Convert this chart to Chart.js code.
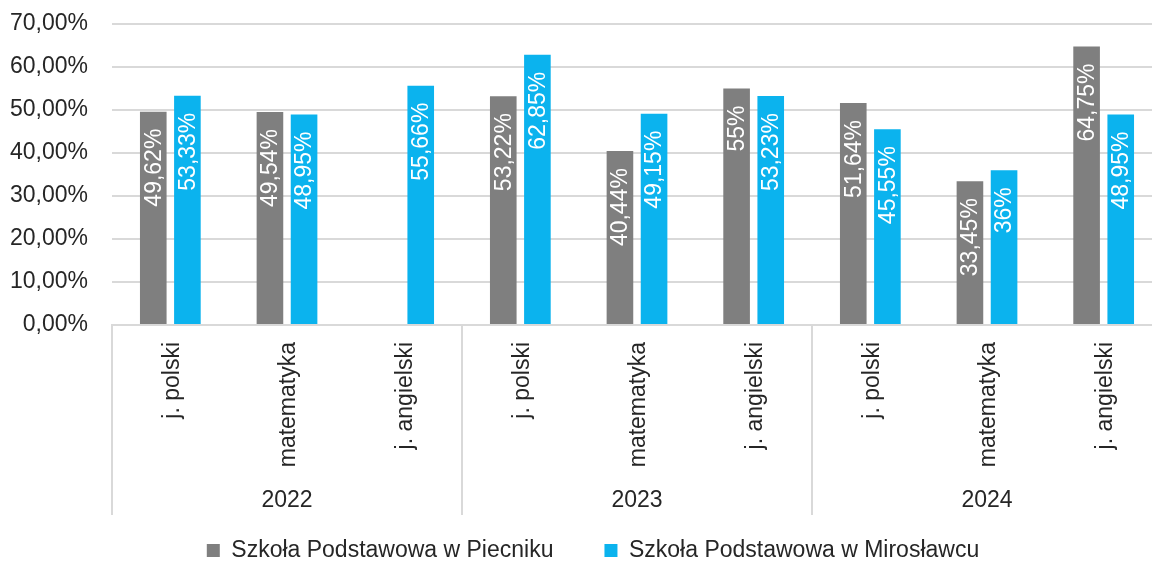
<!DOCTYPE html>
<html><head><meta charset="utf-8">
<script src="https://cdn.jsdelivr.net/npm/chart.js@4"></script>
<style>html,body{margin:0;padding:0;overflow:hidden;background:#fff}#wrap{width:1162px;height:561px}</style>
</head><body><div id="wrap"><canvas id="c" width="1162" height="561"></canvas></div>
<script>
const categories = ['j. polski','matematyka','j. angielski','j. polski','matematyka','j. angielski','j. polski','matematyka','j. angielski'];
const years = ['2022','2023','2024'];
const seriesNames = ['Szkoła Podstawowa w Piecniku','Szkoła Podstawowa w Mirosławcu'];
const piecnik = [49.62, 49.54, null, 53.22, 40.44, 55, 51.64, 33.45, 64.75];
const miroslawiec = [53.33, 48.95, 55.66, 62.85, 49.15, 53.23, 45.55, 36, 48.95];
const yMin = 0, yMax = 70, yStep = 10;

const FONT = '"Liberation Sans", Arial, Helvetica, sans-serif';
const TXT = '#262626';
const GRID = '#d9d9d9';

const fmtLabel = v => String(v).replace('.', ',') + '%';

const valueLabels = {
  id: 'valueLabels',
  afterDatasetsDraw(chart) {
    const ctx = chart.ctx;
    chart.data.datasets.forEach((ds, di) => {
      const meta = chart.getDatasetMeta(di);
      meta.data.forEach((el, i) => {
        const v = ds.data[i];
        if (v === null || v === undefined) return;
        ctx.save();
        ctx.translate(el.x, el.y + 17);
        ctx.rotate(-Math.PI / 2);
        ctx.font = '23px ' + FONT;
        ctx.fillStyle = '#ffffff';
        ctx.textAlign = 'right';
        ctx.textBaseline = 'middle';
        ctx.fillText(fmtLabel(v), 0, 1);
        ctx.restore();
      });
    });
  }
};

const groupSeparators = {
  id: 'groupSeparators',
  afterDraw(chart) {
    const x = chart.scales.x;
    const ctx = chart.ctx;
    const half = (x.getPixelForValue(1) - x.getPixelForValue(0)) / 2;
    const per = categories.length / years.length;
    ctx.save();
    ctx.strokeStyle = GRID;
    ctx.lineWidth = 2;
    for (let g = 0; g <= years.length; g++) {
      const idx = g * per;
      const px = Math.round(x.getPixelForValue(Math.min(idx, categories.length - 1)) + (idx >= categories.length ? half : -half));
      ctx.beginPath();
      ctx.moveTo(px, chart.chartArea.bottom);
      ctx.lineTo(px, 515);
      ctx.stroke();
    }
    ctx.restore();
  }
};

new Chart(document.getElementById('c'), {
  type: 'bar',
  data: {
    labels: categories,
    datasets: [
      { label: seriesNames[0], data: piecnik, backgroundColor: '#7f7f7f', xAxisID: 'x' },
      { label: seriesNames[1], data: miroslawiec, backgroundColor: '#0bb3ee', xAxisID: 'x' }
    ]
  },
  options: {
    responsive: false,
    animation: false,
    events: [],
    categoryPercentage: 0.585,
    barPercentage: 0.78,
    layout: { padding: { top: 24, right: 0, left: 24, bottom: 0 } },
    plugins: {
      tooltip: { enabled: false },
      legend: {
        position: 'bottom',
        maxHeight: 73,
        labels: {
          boxWidth: 13, boxHeight: 13, padding: 51,
          color: TXT,
          font: { family: FONT, size: 23 }
        }
      }
    },
    scales: {
      x: {
        type: 'category',
        labels: categories,
        offset: true,
        grid: { display: false },
        border: { display: true, color: GRID, width: 2 },
        ticks: {
          autoSkip: false, minRotation: 90, maxRotation: 90, padding: 9, labelOffset: 2,
          color: TXT, font: { family: FONT, size: 23 }
        },
        afterFit(s) { s.height = 155; s.paddingTop = 0; s.paddingBottom = 0; }
      },
      x2: {
        type: 'category',
        labels: years,
        position: 'bottom',
        offset: true,
        grid: { display: false },
        border: { display: false },
        ticks: { mirror: true, padding: -34, color: TXT, font: { family: FONT, size: 23 } },
        afterFit(s) { s.height = 8; s.paddingTop = 0; s.paddingBottom = 0; }
      },
      y: {
        min: yMin, max: yMax,
        ticks: {
          stepSize: yStep, mirror: true, crossAlign: 'far', padding: -102, color: TXT,
          font: { family: FONT, size: 23 },
          callback: v => v.toFixed(2).replace('.', ',') + '%'
        },
        grid: { color: GRID, lineWidth: 2, drawTicks: false },
        border: { display: false },
        afterFit(s) { s.width = 88; s.paddingTop = 0; s.paddingBottom = 0; }
      }
    }
  },
  plugins: [valueLabels, groupSeparators]
});
</script>
</body></html>
